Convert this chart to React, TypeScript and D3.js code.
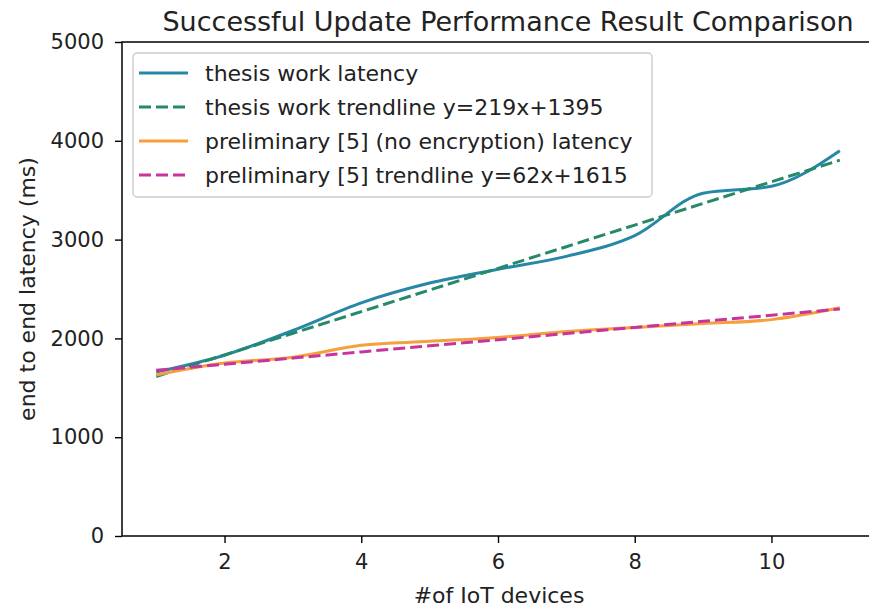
import React, { useEffect, useRef } from 'react';
import * as d3 from 'd3';

// # of IoT devices
const devices = [1, 2, 3, 4, 5, 6, 7, 8, 9, 10, 11];
// thesis work latency (ms)
const thesisLatency = [1660, 1830, 2080, 2360, 2560, 2700, 2830, 3040, 3470, 3540, 3900];
// thesis work trendline y=219x+1395
const thesisTrend = [1614, 1833, 2052, 2271, 2490, 2709, 2928, 3147, 3366, 3585, 3804];
// preliminary [5] (no encryption) latency (ms)
const prelimLatency = [1630, 1750, 1810, 1930, 1970, 2010, 2070, 2110, 2150, 2190, 2310];
// preliminary [5] trendline y=62x+1615
const prelimTrend = [1677, 1739, 1801, 1863, 1925, 1987, 2049, 2111, 2173, 2235, 2297];

const yTicks = [0, 1000, 2000, 3000, 4000, 5000];
const xTicks = [2, 4, 6, 8, 10];

const series = [
  { label: 'thesis work latency', values: thesisLatency, color: '#2787a6', dash: null, smooth: true },
  { label: 'thesis work trendline y=219x+1395', values: thesisTrend, color: '#25896a', dash: '12,5', smooth: false },
  { label: 'preliminary [5] (no encryption) latency', values: prelimLatency, color: '#f5a03c', dash: null, smooth: true },
  { label: 'preliminary [5] trendline y=62x+1615', values: prelimTrend, color: '#c8349e', dash: '12,5', smooth: false },
];

const App = () => {
  const svgRef = useRef(null);

  useEffect(() => {
    const width = 869;
    const height = 610;
    const svg = d3.select(svgRef.current);
    svg.selectAll('*').remove();
    const font = 'DejaVu Sans, sans-serif';

    const left = 122, right = 874, top = 42, bottom = 536;

    const x = d3.scaleLinear().domain([0.5, 11.5]).range([left, right]);
    const y = d3.scaleLinear().domain([0, 5000]).range([bottom, top]);

    svg.append('rect').attr('width', width).attr('height', height).attr('fill', '#fff');

    // lines
    series.forEach(s => {
      const line = d3.line<number>()
        .x((d, i) => x(devices[i]))
        .y(d => y(d))
        .curve(s.smooth ? d3.curveMonotoneX : d3.curveLinear);
      svg.append('path')
        .datum(s.values)
        .attr('d', line)
        .attr('fill', 'none')
        .attr('stroke', s.color)
        .attr('stroke-width', 3)
        .attr('stroke-dasharray', s.dash);
    });

    // axes frame
    svg.append('rect')
      .attr('x', left).attr('y', top)
      .attr('width', right - left).attr('height', bottom - top)
      .attr('fill', 'none').attr('stroke', '#111').attr('stroke-width', 1.6);

    // y axis
    const yAxis = svg.append('g')
      .attr('transform', `translate(${left},0)`)
      .call(d3.axisLeft(y).tickValues(yTicks).tickSize(7).tickPadding(11).tickFormat(d3.format('d')));
    yAxis.select('.domain').remove();
    yAxis.selectAll('line').attr('stroke-width', 1.4);
    yAxis.selectAll('text').attr('font-family', font).attr('font-size', 21).attr('fill', '#222');

    // x axis
    const xAxis = svg.append('g')
      .attr('transform', `translate(0,${bottom})`)
      .call(d3.axisBottom(x).tickValues(xTicks).tickSize(7).tickPadding(11).tickFormat(d3.format('d')));
    xAxis.select('.domain').remove();
    xAxis.selectAll('line').attr('stroke-width', 1.4);
    xAxis.selectAll('text').attr('font-family', font).attr('font-size', 21).attr('fill', '#222');

    // title
    svg.append('text')
      .attr('x', 508).attr('y', 31)
      .attr('text-anchor', 'middle')
      .attr('font-family', font).attr('font-size', 27).attr('fill', '#222')
      .text('Successful Update Performance Result Comparison');

    svg.append('text')
      .attr('x', 499).attr('y', 603)
      .attr('text-anchor', 'middle')
      .attr('font-family', font).attr('font-size', 22).attr('fill', '#222')
      .text('#of IoT devices');

    svg.append('text')
      .attr('transform', `translate(35,289) rotate(-90)`)
      .attr('text-anchor', 'middle')
      .attr('font-family', font).attr('font-size', 22).attr('fill', '#222')
      .text('end to end latency (ms)');

    // legend
    const lg = svg.append('g');
    lg.append('rect')
      .attr('x', 133).attr('y', 53).attr('width', 519).attr('height', 144).attr('rx', 4)
      .attr('fill', '#fff').attr('fill-opacity', 0.8).attr('stroke', '#ccc').attr('stroke-width', 1.4);
    series.forEach((s, i) => {
      const cy = 73 + i * 34;
      lg.append('line')
        .attr('x1', 139).attr('x2', 188).attr('y1', cy).attr('y2', cy)
        .attr('stroke', s.color).attr('stroke-width', 3)
        .attr('stroke-dasharray', s.dash);
      lg.append('text')
        .attr('x', 205).attr('y', cy + 8)
        .attr('font-family', font).attr('font-size', 22).attr('fill', '#222')
        .text(s.label);
    });
  }, []);

  return (
    <svg ref={svgRef} width={869} height={610}
      style={{ position: 'absolute', left: 0, top: 0, display: 'block' }} />
  );
};

export default App;
